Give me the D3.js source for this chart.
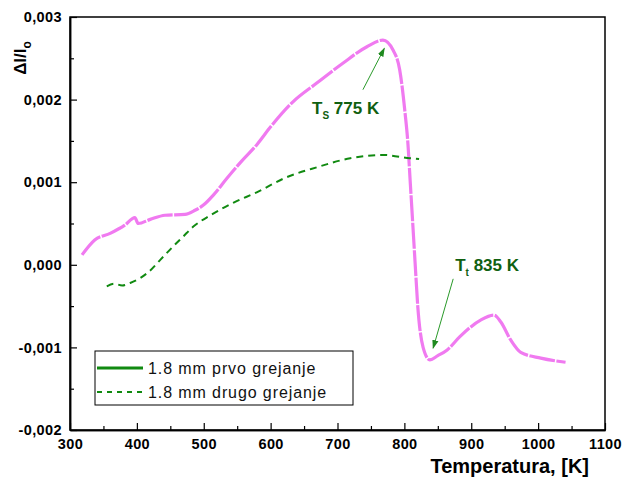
<!DOCTYPE html>
<html>
<head>
<meta charset="utf-8">
<script src="https://cdn.jsdelivr.net/npm/d3@7"></script>
<style>
  body { margin: 0; background: #fff; }
  text { font-family: "Liberation Sans", Arial, sans-serif; }
</style>
</head>
<body>
<svg width="625" height="483"></svg>
<script>
// first heating (pink curve)
let tempPrvo = [318, 337, 360, 382, 397, 402, 420, 442, 472, 487, 499, 515, 535, 555, 580, 600, 633, 669, 708, 744, 768, 783, 793, 801, 805, 809, 812, 816, 820, 828, 838, 850, 864, 883, 914, 934, 944, 959, 974, 1004, 1041];
let dlPrvo = [0.00012, 0.0003, 0.00038, 0.00048, 0.00057, 0.0005, 0.00055, 0.0006, 0.00061, 0.00066, 0.00072, 0.00085, 0.00105, 0.00124, 0.00146, 0.00167, 0.00197, 0.0022, 0.00244, 0.00264, 0.00272, 0.0026, 0.00236, 0.00184, 0.0015, 0.00097, 0.00057, 0.00003, -0.0005, -0.001, -0.00115, -0.0011, -0.00103, -0.00087, -0.00067, -0.00061, -0.00069, -0.00091, -0.00106, -0.00113, -0.00118];

// second heating (green dashed)
let tempDrugo = [355, 366, 378, 390, 405, 417, 435, 454, 469, 484, 510, 544, 580, 621, 669, 719, 768, 808, 822];
let dlDrugo = [-0.00026, -0.00023, -0.00025, -0.00022, -0.00016, -0.00009, 0.00006, 0.00022, 0.00034, 0.00046, 0.0006, 0.00075, 0.00088, 0.00105, 0.00118, 0.00129, 0.00133, 0.00129, 0.00128];

let xTicks = [300, 400, 500, 600, 700, 800, 900, 1000, 1100];
let yTicks = [-0.002, -0.001, 0, 0.001, 0.002, 0.003];
let legendLabels = ["1.8 mm prvo grejanje", "1.8 mm drugo grejanje"];

let svg = d3.select("svg");
let mLeft = 70, mRight = 605, mTop = 17, mBottom = 430;

let x = d3.scaleLinear().domain([300, 1100]).range([mLeft, mRight]);
let y = d3.scaleLinear().domain([-0.002, 0.003]).range([mBottom, mTop]);
let fmt = (d) => d3.format(".3f")(d).replace(".", ",").replace("−", "-");

// frame
svg.append("rect")
  .attr("x", mLeft).attr("y", mTop)
  .attr("width", mRight - mLeft).attr("height", mBottom - mTop)
  .attr("fill", "none").attr("stroke", "#000").attr("stroke-width", 1.5);

// x axis, ticks pointing in
svg.append("g")
  .attr("transform", `translate(0,${mBottom})`)
  .call(d3.axisBottom(x).tickValues(xTicks).tickSizeInner(-7).tickSizeOuter(0).tickPadding(9).tickFormat(d3.format("d")));
svg.append("g")
  .attr("transform", `translate(0,${mBottom})`)
  .call(d3.axisBottom(x).tickValues(d3.range(350, 1100, 100)).tickSizeInner(-4).tickSizeOuter(0).tickFormat(""));

svg.append("g")
  .attr("transform", `translate(${mLeft},0)`)
  .call(d3.axisLeft(y).tickValues(yTicks).tickSizeInner(-7).tickSizeOuter(0).tickPadding(8).tickFormat(fmt));
svg.append("g")
  .attr("transform", `translate(${mLeft},0)`)
  .call(d3.axisLeft(y).tickValues([-0.0015, -0.0005, 0.0005, 0.0015, 0.0025]).tickSizeInner(-4).tickSizeOuter(0).tickFormat(""));

svg.selectAll(".domain").attr("stroke", "#000").attr("stroke-width", 1.5);
svg.selectAll(".tick line").attr("stroke", "#000").attr("stroke-width", 1.2);
svg.selectAll(".tick text")
  .style("font-family", "Liberation Sans, Arial, sans-serif")
  .style("font-size", "14.5px")
  .style("font-weight", "bold")
  .style("letter-spacing", "0.4px")
  .attr("fill", "#000");

// axis titles
svg.append("text")
  .attr("x", 589).attr("y", 473)
  .attr("text-anchor", "end")
  .style("font-size", "20px").style("font-weight", "bold")
  .text("Temperatura, [K]");

let yl = svg.append("text")
  .attr("transform", "translate(26,58) rotate(-90)")
  .attr("text-anchor", "middle")
  .style("font-size", "17px").style("font-weight", "bold");
yl.append("tspan").text("Δl/l");
yl.append("tspan").attr("dy", 5).style("font-size", "12px").text("o");

// curves
let line = d3.line()
  .x((d) => x(d[0]))
  .y((d) => y(d[1]))
  .curve(d3.curveMonotoneX);

svg.append("path")
  .datum(tempPrvo.map((t, i) => [t, dlPrvo[i]]))
  .attr("d", line)
  .attr("fill", "none")
  .attr("stroke", "#f07af0")
  .attr("stroke-width", 3.2)
  .attr("stroke-dasharray", "26,1.5");

svg.append("path")
  .datum(tempDrugo.map((t, i) => [t, dlDrugo[i]]))
  .attr("d", line)
  .attr("fill", "none")
  .attr("stroke", "#118a11")
  .attr("stroke-width", 2)
  .attr("stroke-dasharray", "7,5");

// annotations
let defs = svg.append("defs");
defs.append("marker")
  .attr("id", "arrow")
  .attr("viewBox", "0 0 10 10")
  .attr("refX", 9).attr("refY", 5)
  .attr("markerWidth", 9).attr("markerHeight", 9)
  .attr("orient", "auto")
  .append("path")
  .attr("d", "M0,1.5 L10,5 L0,8.5 Z")
  .attr("fill", "#1f8a1f");

function arrow(x1, y1, x2, y2) {
  svg.append("line")
    .attr("x1", x(x1)).attr("y1", y(y1))
    .attr("x2", x(x2)).attr("y2", y(y2))
    .attr("stroke", "#2a9a2a").attr("stroke-width", 1)
    .attr("marker-end", "url(#arrow)");
}
arrow(738, 0.00212, 770, 0.00262);
arrow(873, -0.00017, 843, -0.00101);

function label(tx, ty, sub, rest) {
  let t = svg.append("text")
    .attr("x", x(tx)).attr("y", y(ty))
    .attr("fill", "#106010")
    .style("font-size", "17px").style("font-weight", "bold");
  t.append("tspan").text("T");
  t.append("tspan").attr("dy", 5).style("font-size", "10px").text(sub);
  t.append("tspan").attr("dy", -5).text(" " + rest);
}
label(662, 0.001826, "S", "775 K");
label(876, -0.000075, "t", "835 K");

// legend
let lg = svg.append("g").attr("transform", "translate(95,351)");
lg.append("rect")
  .attr("width", 258).attr("height", 54)
  .attr("fill", "#fff").attr("stroke", "#000").attr("stroke-width", 1);
legendLabels.forEach((txt, i) => {
  let yy = 17 + i * 24;
  lg.append("line")
    .attr("x1", 2).attr("x2", 48).attr("y1", yy).attr("y2", yy)
    .attr("stroke", "#118a11").attr("stroke-width", i == 0 ? 3 : 2)
    .attr("stroke-dasharray", i == 0 ? null : "5,5");
  lg.append("text")
    .attr("x", 53).attr("y", yy + 5.5)
    .attr("fill", "#111")
    .style("font-size", "16px")
    .style("letter-spacing", "0.9px")
    .text(txt);
});
</script>
</body>
</html>
